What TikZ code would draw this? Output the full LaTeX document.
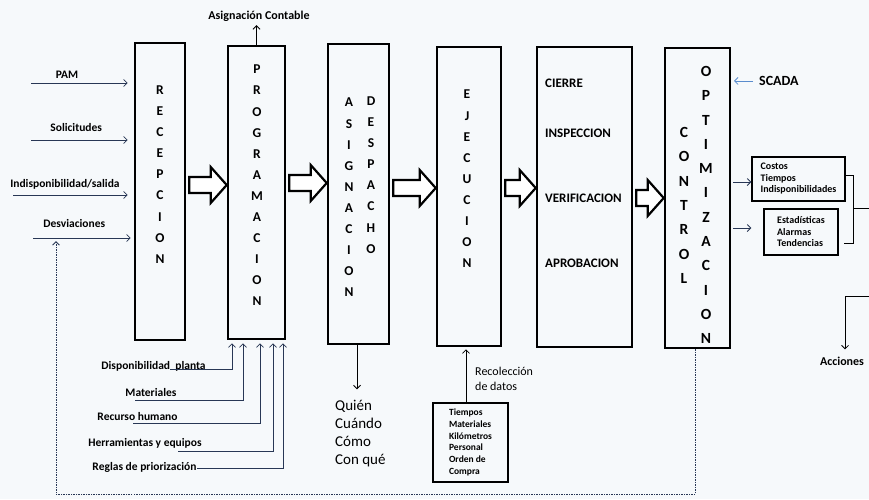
\documentclass[tikz,border=0pt]{standalone}
\usepackage{fontspec}
\setmainfont{Carlito}
\usetikzlibrary{calc, arrows.meta}

\definecolor{paper}{RGB}{246,249,251}
\definecolor{ink}{RGB}{40,55,85}
\definecolor{scadablue}{RGB}{90,140,205}

% hollow block arrow between two stages, #3 = height of its axis
\newcommand{\fatarrow}[3]{%
  \draw [fat] let \p1 = (#1.east), \p2 = (#2.west), \p3 = (0,#3) in
    (\x1+3pt,\y3+8pt) -- (\x2-16pt,\y3+8pt) -- (\x2-16pt,\y3+18pt) -- (\x2,\y3)
    -- (\x2-16pt,\y3-18pt) -- (\x2-16pt,\y3-8pt) -- (\x1+3pt,\y3-8pt) -- cycle;}

\begin{document}
\begin{tikzpicture}[x = 1pt, y = -1pt, > = {Straight Barb[length = 3.5pt, width = 7pt]},
	stage/.style = {draw, line width = 2.6pt, inner sep = 0pt},
	letters/.style = {font = \bfseries\fontsize{13.5}{21.1}\selectfont, align = center, inner sep = 0pt},
	bigletters/.style = {font = \bfseries\fontsize{15.5}{24.3}\selectfont, align = center, inner sep = 0pt},
	lbl/.style = {font = \bfseries\fontsize{11.5}{13}\selectfont, inner sep = 1pt},
	step-lbl/.style = {font = \bfseries\fontsize{13}{15}\selectfont, inner sep = 1pt, anchor = base west},
	in-arrow/.style = {->, ink, line width = 0.8pt},
	thin-line/.style = {line width = 0.8pt},
	feed/.style = {->, ink, line width = 0.9pt, dash pattern = on 1.5pt off 1pt},
	fat/.style = {draw, line width = 2.2pt, fill = white, line join = miter},
	note/.style = {draw, line width = 1.4pt, align = left, inner sep = 1pt, font = \bfseries\fontsize{10}{11.5}\selectfont}]

	\fill [paper] (0,0) rectangle (869,499);
	\useasboundingbox (0,0) rectangle (869,499);

	% The stages

	\node [stage, minimum width = 50, minimum height = 297] (rec) at (160,191.5) {};
	\node [stage, minimum width = 57, minimum height = 293] (prog) at (256.5,192.5) {};
	\node [stage, minimum width = 61, minimum height = 300] (asig) at (358.5,194) {};
	\node [stage, minimum width = 64, minimum height = 299] (ejec) at (469,196.5) {};
	\node [stage, minimum width = 95, minimum height = 300] (cie) at (584.5,197) {};
	\node [stage, minimum width = 65, minimum height = 300] (ctl) at (697.5,198) {};

	\node [letters] (rec-txt) at (160,174.5) {R\\E\\C\\E\\P\\C\\I\\O\\N};
	\node [letters] (prog-txt) at (257,185.5) {P\\R\\O\\G\\R\\A\\M\\A\\C\\I\\O\\N};
	\node [letters] (asig-txt) at (349,197.5) {A\\S\\I\\G\\N\\A\\C\\I\\O\\N};
	\node [letters] (desp-txt) at (371,175) {D\\E\\S\\P\\A\\C\\H\\O};
	\node [letters] (ejec-txt) at (467,179) {E\\J\\E\\C\\U\\C\\I\\O\\N};
	\node [bigletters] (ctl-txt) at (684,205.5) {C\\O\\N\\T\\R\\O\\L};
	\node [bigletters] (opt-txt) at (706,205) {O\\P\\T\\I\\M\\I\\Z\\A\\C\\I\\O\\N};

	\node [step-lbl] (cierre) at (544,87) {CIERRE};
	\node [step-lbl] (insp) at (544,137) {INSPECCION};
	\node [step-lbl] (verif) at (544,202) {VERIFICACION};
	\node [step-lbl] (aprob) at (544,267) {APROBACION};

	\fatarrow{rec}{prog}{185}
	\fatarrow{prog}{asig}{183}
	\fatarrow{asig}{ejec}{188}
	\fatarrow{ejec}{cie}{188}
	\fatarrow{cie}{ctl}{198}

	% Inputs on the left

	\coordinate (pam-in) at (31,83);
	\coordinate (sol-in) at (31,140);
	\coordinate (ind-in) at (13,195);
	\coordinate (desv-in) at (33,238);

	\begin{scope}[in-arrow, shorten > = 6pt]
		\draw (pam-in) -- node [lbl, black, anchor = base, pos = 0.35, yshift = 5pt] (pam) {PAM} (pam-in -| rec.west);
		\draw (sol-in) -- node [lbl, black, anchor = base, pos = 0.44, yshift = 9pt] (sol) {Solicitudes} (sol-in -| rec.west);
		\draw (ind-in) -- node [lbl, black, anchor = base, pos = 0.43, yshift = 8pt] (ind) {Indisponibilidad/salida} (ind-in -| rec.west);
		\draw [shorten > = 3pt] (desv-in) -- node [lbl, black, anchor = base, pos = 0.41, yshift = 11pt] (desv) {Desviaciones} (desv-in -| rec.west);
	\end{scope}

	% Inputs under the programming stage

	\node [lbl, anchor = base] (disp) at (153.5,369.7) {Disponibilidad\ \ planta};
	\node [lbl, anchor = base] (mat) at (151,396.7) {Materiales};
	\node [lbl, anchor = base] (rhum) at (137.5,420.7) {Recurso humano};
	\node [lbl, anchor = base] (herr) at (145,446.7) {Herramientas y equipos};
	\node [lbl, anchor = base] (regl) at (144.5,470.7) {Reglas de priorización};

	\coordinate (disp-in) at (170,369);
	\coordinate (mat-in) at (135,400);
	\coordinate (rhum-in) at (133,423);
	\coordinate (herr-in) at (178,451);
	\coordinate (regl-in) at (197,468);

	\begin{scope}[in-arrow, shorten > = 3pt]
		\draw (disp-in) -| ([xshift = -24.5pt] prog.south);
		\draw (mat-in) -| ([xshift = -13.5pt] prog.south);
		\draw (rhum-in) -| ([xshift = 3.5pt] prog.south);
		\draw (herr-in) -| ([xshift = 16.5pt] prog.south);
		\draw (regl-in) -| ([xshift = 26.5pt] prog.south);
	\end{scope}

	% Outputs of programming and dispatch

	\node [lbl, font = \bfseries\fontsize{12}{14}\selectfont, anchor = base] (asigc) at (259,19) {Asignación Contable};
	\draw [thin-line, ->, shorten > = 3pt] (prog.north) -- (prog.north |- asigc.south);

	\node [inner sep = 1pt, anchor = west, align = left, font = \fontsize{15}{17.7}\selectfont] (quien) at (334,433.5) {Quién\\Cuándo\\Cómo\\Con qué};
	\draw [thin-line, ->] ([xshift = -1.5pt] asig.south) -- ++(0,44);

	% Data collection

	\node [note, font = \bfseries\fontsize{9.5}{11.8}\selectfont, minimum width = 75, minimum height = 79] (tmp) at (470.5,442.5) {Tiempos\\Materiales\\Kilómetros\\Personal\\Orden de\\Compra};
	\node [inner sep = 1pt, anchor = west, align = left, font = \fontsize{12}{15}\selectfont] (recol) at (474,379) {Recolección\\de datos};
	\draw [thin-line, ->, shorten > = 2pt] ([xshift = -4.5pt] tmp.north) -- ([xshift = -4.5pt] tmp.north |- ejec.south);

	% Control and optimization

	\node [font = \bfseries\fontsize{14}{16}\selectfont, inner sep = 1pt, anchor = base west] (scada) at (758,85.5) {SCADA};
	\draw [->, scadablue, line width = 0.8pt, shorten < = 5pt] (scada.west) -- ++(-24,0);

	\node [note, minimum width = 93, minimum height = 44] (cost) at (798.5,179) {Costos\\Tiempos\\Indisponibilidades};
	\node [note, minimum width = 74, minimum height = 46] (stat) at (801,232) {Estadísticas\\Alarmas\\Tendencias};

	\draw [in-arrow, shorten < = 2pt] ([yshift = -3pt] ctl.east |- cost.west) -- ([yshift = -3pt] cost.west);
	\draw [in-arrow, shorten < = 2pt, shorten > = 12pt] ([yshift = 4pt] ctl.east |- stat.west) -- ([yshift = 4pt] stat.west);

	\draw [thin-line] ([yshift = 4pt] cost.east) -- ++(8,0) |- ([xshift = 5pt, yshift = -11pt] stat.east);

	\coordinate (brk-mid) at (853,208);
	\coordinate (out-r) at (869,208);
	\coordinate (back-r) at (869,296);
	\draw [thin-line] (brk-mid) -- (out-r);

	\node [lbl, font = \bfseries\fontsize{12}{14}\selectfont, anchor = base] (acc) at (842,365) {Acciones};
	\draw [thin-line, ->, shorten > = 6pt] (back-r) -| ([xshift = 3pt] acc.north);

	% Feedback to the deviations

	\draw [feed] ([xshift = -2.5pt] ctl.south) -- ++(0,145) -| ([xshift = 23pt, yshift = -3pt] desv-in);

\end{tikzpicture}
\end{document}
